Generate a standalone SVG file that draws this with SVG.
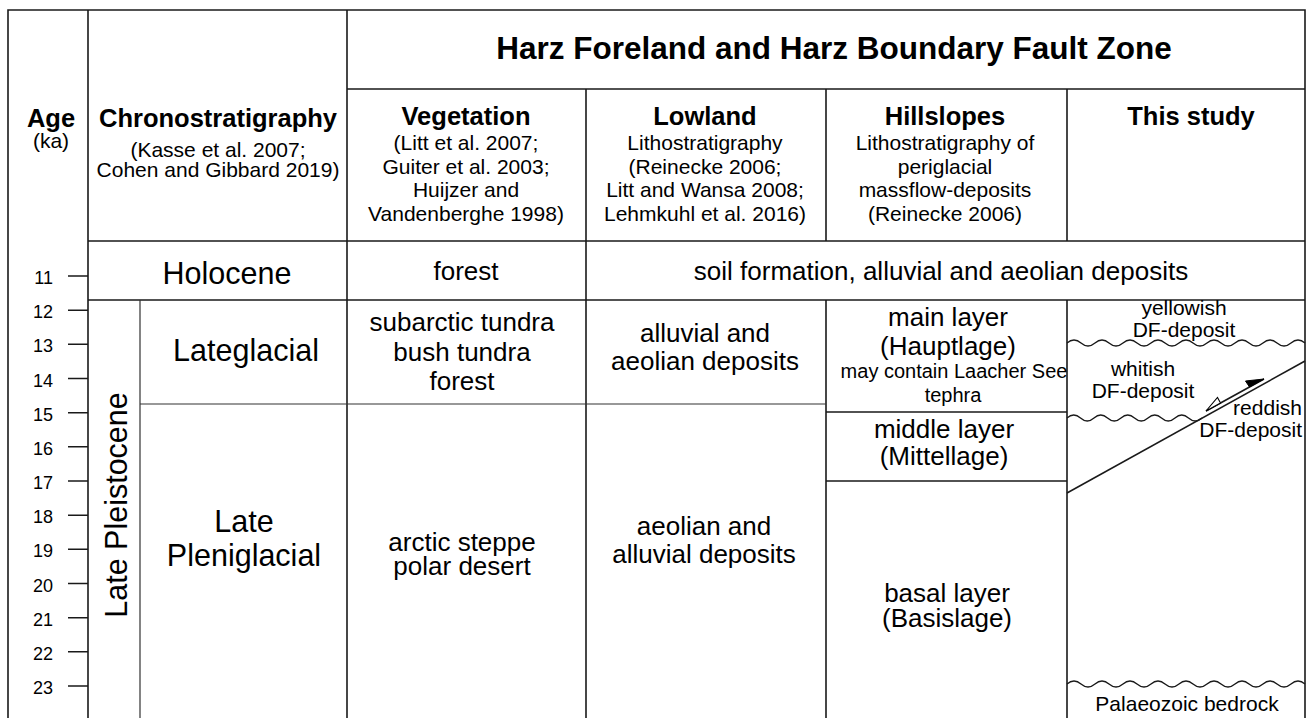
<svg xmlns="http://www.w3.org/2000/svg" width="1309" height="718" viewBox="0 0 1309 718">
<style>
text{font-family:"Liberation Sans",Arial,sans-serif;fill:#000}
.c{text-anchor:middle}
.e{text-anchor:end}
.b{font-weight:bold}
.t{font-size:31.5px}
.h{font-size:25.5px}
.s{font-size:21px}
.m{font-size:26px}
.g{font-size:30.5px}
.n{font-size:18px}
.ln{stroke:#1a1a1a;stroke-width:1.6;fill:none}
.thin{stroke:#333;stroke-width:1.2;fill:none}
.wave{stroke:#1a1a1a;stroke-width:1.3;fill:none}
</style>
<rect width="1309" height="718" fill="#fff"/>
<g id="grid">
<path class="ln" d="M8,718V10H1305V718"/>
<path class="ln" d="M88,10V718M347,10V718M347,89H1305M88,241H1305M88,300H1305"/>
<path class="ln" d="M586,89V718M826,89V241M826,300V718M1067,89V241M1067,300V718"/>
<path class="thin" d="M140,300V718M140,404H826"/>
<path class="ln" d="M826,412H1067M826,481H1067"/>
</g>
<g id="age-axis">
<path class="ln" d="M68,276H88M68,310.2H88M68,344.3H88M68,378.5H88M68,412.7H88M68,446.8H88M68,481H88M68,515.2H88M68,549.3H88M68,583.5H88M68,617.7H88M68,651.8H88M68,686H88"/>
<text class="n e" x="53" y="284">11</text>
<text class="n e" x="53" y="318">12</text>
<text class="n e" x="53" y="352">13</text>
<text class="n e" x="53" y="386.5">14</text>
<text class="n e" x="53" y="420.5">15</text>
<text class="n e" x="53" y="455">16</text>
<text class="n e" x="53" y="489">17</text>
<text class="n e" x="53" y="523">18</text>
<text class="n e" x="53" y="557">19</text>
<text class="n e" x="53" y="591.5">20</text>
<text class="n e" x="53" y="625.5">21</text>
<text class="n e" x="53" y="660">22</text>
<text class="n e" x="53" y="694">23</text>
</g>
<g id="header-age">
<text class="h b c" x="51" y="127">Age</text>
<text class="s c" x="51" y="148">(ka)</text>
</g>
<g id="header-chrono">
<text class="h b c" x="218" y="127">Chronostratigraphy</text>
<text class="s c" x="218" y="157">(Kasse et al. 2007;</text>
<text class="s c" x="218" y="176.5">Cohen and Gibbard 2019)</text>
</g>
<g id="header-title">
<text class="t b c" x="834" y="59">Harz Foreland and Harz Boundary Fault Zone</text>
</g>
<g id="header-vegetation">
<text class="h b c" x="466" y="125">Vegetation</text>
<text class="s c" x="466" y="150">(Litt et al. 2007;</text>
<text class="s c" x="466" y="173.5">Guiter et al. 2003;</text>
<text class="s c" x="466" y="197">Huijzer and</text>
<text class="s c" x="466" y="220.5">Vandenberghe 1998)</text>
</g>
<g id="header-lowland">
<text class="h b c" x="705" y="125">Lowland</text>
<text class="s c" x="705" y="150">Lithostratigraphy</text>
<text class="s c" x="705" y="173.5">(Reinecke 2006;</text>
<text class="s c" x="705" y="197">Litt and Wansa 2008;</text>
<text class="s c" x="705" y="220.5">Lehmkuhl et al. 2016)</text>
</g>
<g id="header-hillslopes">
<text class="h b c" x="945" y="125">Hillslopes</text>
<text class="s c" x="945" y="150">Lithostratigraphy of</text>
<text class="s c" x="945" y="173.5">periglacial</text>
<text class="s c" x="945" y="197">massflow-deposits</text>
<text class="s c" x="945" y="220.5">(Reinecke 2006)</text>
</g>
<g id="header-thisstudy">
<text class="h b c" x="1191" y="125">This study</text>
</g>
<g id="holocene">
<text class="g c" x="227" y="284">Holocene</text>
<text class="m c" x="466" y="280">forest</text>
<text class="m c" x="941" y="280">soil formation, alluvial and aeolian deposits</text>
</g>
<g id="late-pleistocene">
<text class="g c" transform="translate(126.5,505) rotate(-90)" x="0" y="0">Late Pleistocene</text>
</g>
<g id="lateglacial">
<text class="g c" x="246" y="361">Lateglacial</text>
<text class="m c" x="462" y="331">subarctic tundra</text>
<text class="m c" x="462" y="361">bush tundra</text>
<text class="m c" x="462" y="390">forest</text>
<text class="m c" x="705" y="342">alluvial and</text>
<text class="m c" x="705" y="370">aeolian deposits</text>
</g>
<g id="pleniglacial">
<text class="g c" x="244" y="532">Late</text>
<text class="g c" x="244" y="566">Pleniglacial</text>
<text class="m c" x="462" y="551">arctic steppe</text>
<text class="m c" x="462" y="575">polar desert</text>
<text class="m c" x="704" y="535">aeolian and</text>
<text class="m c" x="704" y="563">alluvial deposits</text>
</g>
<g id="hillslope-layers">
<text class="m c" x="948" y="326">main layer</text>
<text class="m c" x="948" y="355">(Hauptlage)</text>
<text class="c" style="font-size:20px" x="954" y="378">may contain Laacher See</text>
<text class="c" style="font-size:20px" x="953" y="402">tephra</text>
<text class="m c" x="944" y="438">middle layer</text>
<text class="m c" x="944" y="465">(Mittellage)</text>
<text class="m c" x="947" y="602">basal layer</text>
<text class="m c" x="947" y="627">(Basislage)</text>
</g>
<g id="this-study">
<path class="wave" d="M1067,343q7,-6 14,0t14,0t14,0t14,0t14,0t14,0t14,0t14,0t14,0t14,0t14,0t14,0t14,0t14,0t14,0t14,0t14,0"/>
<path class="wave" d="M1067,418q6.75,-6 13.5,0t13.5,0t13.5,0t13.5,0t13.5,0t13.5,0t13.5,0t13.5,0t13.5,0t13.5,0"/>
<path class="wave" d="M1067,684q7,-6 14,0t14,0t14,0t14,0t14,0t14,0t14,0t14,0t14,0t14,0t14,0t14,0t14,0t14,0t14,0t14,0t14,0"/>
<text class="s c" x="1184" y="315">yellowish</text>
<text class="s c" x="1184" y="337">DF-deposit</text>
<text class="s c" x="1143" y="376">whitish</text>
<text class="s c" x="1143" y="398">DF-deposit</text>
<text class="s e" x="1302" y="415">reddish</text>
<text class="s e" x="1302" y="437">DF-deposit</text>
<text class="s c" x="1187" y="711">Palaeozoic bedrock</text>
</g>
<g id="connectors">
<path class="ln" stroke-width="1.5" d="M1067,493L1305,361"/>
<path class="ln" stroke-width="1.3" d="M1206,411L1264,379"/>
<polygon points="1264,379 1249.5,387 1245.5,381" fill="#000" stroke="#000" stroke-width="1"/>
<polygon points="1206,411 1220.5,403 1217.5,397.5" fill="#fff" stroke="#000" stroke-width="1.1"/>
</g>
</svg>
